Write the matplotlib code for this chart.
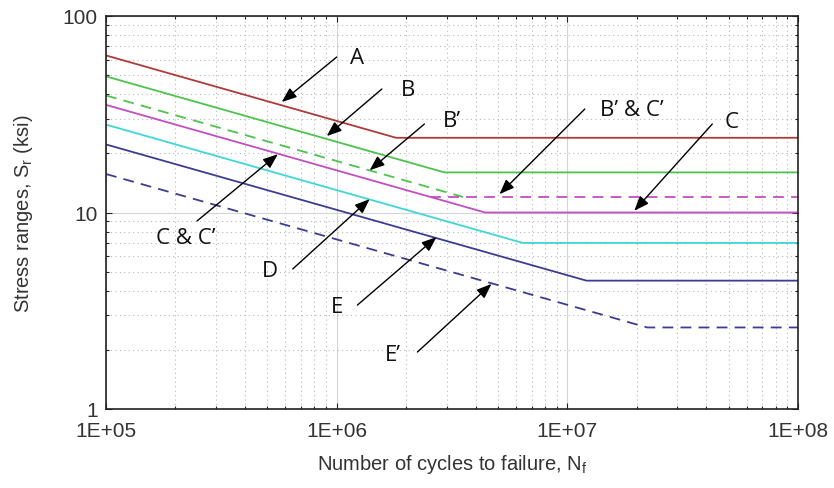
import numpy as np
import matplotlib
matplotlib.use("Agg")
import matplotlib.pyplot as plt
from matplotlib.ticker import FuncFormatter, LogLocator, NullFormatter

plt.rcParams['font.family'] = ['Liberation Sans', 'DejaVu Sans']
plt.rcParams['mathtext.fontset'] = 'custom'
plt.rcParams['mathtext.rm'] = 'Liberation Sans'
plt.rcParams['mathtext.it'] = 'Liberation Sans'

# curvas S-N por categoria: (ciclos, rango de esfuerzo ksi)
N_A = [1e5, 1.81e6, 1e8]
S_A = [63.0, 24.0, 24.0]
N_B = [1e5, 2.93e6, 1e8]
S_B = [49.3, 16.0, 16.0]
N_Bp = [1e5, 3.53e6]
S_Bp = [39.4, 12.0]
N_Cp = [2.55e6, 1e8]
S_Cp = [12.0, 12.0]
N_C = [1e5, 4.4e6, 1e8]
S_C = [35.3, 10.0, 10.0]
N_D = [1e5, 6.41e6, 1e8]
S_D = [28.0, 7.0, 7.0]
N_E = [1e5, 1.21e7, 1e8]
S_E = [22.2, 4.5, 4.5]
N_Ep = [1e5, 2.22e7, 1e8]
S_Ep = [15.7, 2.6, 2.6]

# etiquetas: texto, posicion del texto, inicio de flecha, punta de flecha
etiquetas = ["A", "B", "B\u2019", "B\u2019 & C\u2019", "C", "C & C\u2019", "D", "E", "E\u2019"]
pos_texto = [(1.23e6, 61.8), (2.03e6, 42.5), (3.15e6, 29.3), (1.91e7, 33.6), (5.13e7, 28.9),
             (2.22e5, 7.5), (5.13e5, 5.04), (1.0e6, 3.34), (1.75e6, 1.905)]
cola = [(1.0e6, 61.8), (1.57e6, 42.5), (2.40e6, 28.2), (1.19e7, 33.6), (4.25e7, 28.2),
        (2.48e5, 9.05), (6.45e5, 5.16), (1.23e6, 3.38), (2.24e6, 1.95)]
punta = [(5.78e5, 36.5), (9.06e5, 24.5), (1.39e6, 16.4), (5.08e6, 12.4), (1.95e7, 10.2),
         (5.56e5, 19.8), (1.39e6, 11.7), (2.71e6, 7.5), (4.69e6, 4.33)]

fig = plt.figure(figsize=(8.34, 4.89), dpi=100)
ax = fig.add_axes([106/834, 1-410/489, (798-106)/834, (410-17)/489])

lw = 1.3
dash = (0, (6, 4))
ax.plot(N_A, S_A, color="#b03a3a", lw=lw)
ax.plot(N_B, S_B, color="#4cc44c", lw=lw)
ax.plot(N_Bp, S_Bp, color="#4cc44c", lw=lw, linestyle=dash)
ax.plot(N_Cp, S_Cp, color="#c24ec2", lw=lw, linestyle=dash)
ax.plot(N_C, S_C, color="#c24ec2", lw=lw)
ax.plot(N_D, S_D, color="#3fd6d6", lw=lw)
ax.plot(N_E, S_E, color="#3c3c94", lw=lw)
ax.plot(N_Ep, S_Ep, color="#3c3c94", lw=lw, linestyle=dash)

ax.set_xscale('log')
ax.set_yscale('log')
ax.set_xlim(1e5, 1e8)
ax.set_ylim(1, 100)

ax.xaxis.set_major_locator(LogLocator(base=10, numticks=10))
ax.xaxis.set_minor_locator(LogLocator(base=10, subs=np.arange(2, 10), numticks=20))
ax.yaxis.set_minor_locator(LogLocator(base=10, subs=np.arange(2, 10), numticks=20))
ax.xaxis.set_major_formatter(FuncFormatter(lambda v, p: "1E+%02d" % round(np.log10(v))))
ax.yaxis.set_major_formatter(FuncFormatter(lambda v, p: "%g" % v))
ax.xaxis.set_minor_formatter(NullFormatter())
ax.yaxis.set_minor_formatter(NullFormatter())

ax.grid(True, which='major', color="#d4d4d4", lw=0.8, linestyle='-')
ax.grid(True, which='minor', color="#b8b8b8", lw=0.8, linestyle=(0, (1, 3)))
ax.set_axisbelow(True)

ax.tick_params(which='both', direction='in', top=True, right=True, labelsize=15,
               colors="#222222", labelcolor="#333333")
ax.tick_params(which='major', length=4, width=0.8)
ax.tick_params(which='minor', length=2, width=0.8)
ax.tick_params(axis='x', pad=9)
ax.tick_params(axis='y', pad=6)
for s in ax.spines.values():
    s.set_color("#222222")
    s.set_linewidth(1.2)

ax.set_xlabel("Number of cycles to failure, N$_\\mathrm{f}$", fontsize=14.5, color="#333333", labelpad=8)
ax.set_ylabel("Stress ranges, S$_\\mathrm{r}$ (ksi)", fontsize=14.5, color="#333333", labelpad=20)

for txt, pt, c0, c1 in zip(etiquetas, pos_texto, cola, punta):
    ax.text(pt[0], pt[1], txt, ha='center', va='center', fontsize=16,
            family=['Open Sans', 'DejaVu Sans'], color="#111111")
    ax.annotate("", xy=c1, xytext=c0,
                arrowprops=dict(arrowstyle='-|>,head_length=0.9,head_width=0.35',
                                color='black', lw=1.0, shrinkA=0, shrinkB=0))

fig.savefig("out.png", dpi=100)
